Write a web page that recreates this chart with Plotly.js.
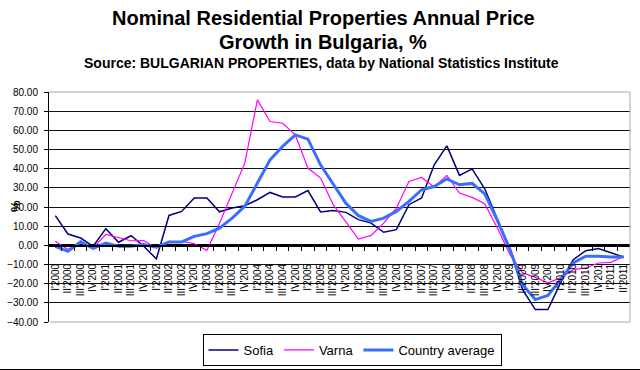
<!DOCTYPE html>
<html>
<head>
<meta charset="utf-8">
<script src="https://cdn.plot.ly/plotly-3.0.1.min.js"></script>
<style>
  html, body { margin: 0; padding: 0; background: #fff; }
  #chart { width: 640px; height: 370px; }
</style>
</head>
<body>
<div id="chart"></div>
<script>
// Quarter labels as printed on the category axis
const quarterLabels = [
  "I'2000","II'2000","III'2000","IV'200",
  "I'2001","II'2001","III'2001","IV'200",
  "I'2002","II'2002","III'2002","IV'200",
  "I'2003","II'2003","III'2003","IV'200",
  "I'2004","II'2004","III'2004","IV'200",
  "I'2005","II'2005","III'2005","IV'200",
  "I'2006","II'2006","III'2006","IV'200",
  "I'2007","II'2007","III'2007","IV'200",
  "I'2008","II'2008","III'2008","IV'200",
  "I'2009","II'2009","III'2009","IV'200",
  "I'2010","II'2010","III'2010","IV'201",
  "I'2011","II'2011"
];

const sofia = [
  15.5, 5.9, 3.8, -0.5, 8.7, 1.6, 5.0, -0.5, -7.1, 15.6,
  17.7, 24.7, 24.7, 17.5, 19.5, 20.7, 23.8, 27.6, 25.2, 25.2,
  28.6, 17.4, 18.2, 17.2, 13.4, 11.6, 6.8, 8.2, 21.2, 24.7,
  42.0, 51.9, 36.5, 39.9, 29.5, 14.0, -2.2, -23.1, -33.5, -33.5,
  -19.6, -7.5, -2.8, -1.7, -4.0, -6.1
];

const varna = [
  2.1, -2.2, 1.8, -1.4, 5.7, 4.0, 2.4, 2.5, -1.4, 2.0,
  2.0, 0.9, -2.6, 11.5, 27.3, 42.9, 75.9, 64.6, 63.7, 57.6,
  40.3, 35.1, 21.2, 12.0, 3.3, 5.2, 11.6, 19.4, 33.3, 35.4,
  30.5, 36.5, 27.3, 25.0, 21.7, 9.0, -4.9, -14.4, -16.7, -19.6,
  -17.0, -12.7, -11.8, -9.2, -8.9, -5.7
];

const countryAverage = [
  -0.5, -3.1, 1.8, -1.6, 1.2, -0.5, -0.5, 0.4, -1.0, 1.8,
  1.8, 4.7, 6.1, 9.0, 14.2, 20.3, 32.5, 44.6, 51.6, 57.6,
  55.4, 42.0, 32.0, 22.0, 15.5, 12.5, 14.2, 17.7, 22.9, 29.0,
  30.7, 34.7, 31.6, 32.3, 26.8, 13.0, -2.2, -20.5, -28.3, -26.2,
  -17.9, -9.2, -5.7, -5.7, -6.1, -6.1
];

const idx = quarterLabels.map((_, i) => i);
const boundaries = quarterLabels.slice(1).map((_, i) => i + 0.5);

const FONT = 'Arial, "Liberation Sans", sans-serif';
const W = 640, H = 370, ML = 49, MR = 10, MT = 92, MB = 48;
const PW = W - ML - MR, PH = H - MT - MB;
const px = x => (x - ML) / PW;          // pixel -> paper x
const py = y => 1 - (y - MT) / PH;      // pixel -> paper y

const traces = [
  { x: idx, y: sofia, name: 'Sofia', type: 'scatter', mode: 'lines',
    line: { color: '#000080', width: 1.5 } },
  { x: idx, y: varna, name: 'Varna', type: 'scatter', mode: 'lines',
    line: { color: '#FF00FF', width: 1.2 } },
  { x: idx, y: countryAverage, name: 'Country average', type: 'scatter', mode: 'lines',
    line: { color: '#3A6EFF', width: 3 } }
];

const layout = {
  width: W, height: H,
  margin: { l: ML, r: MR, t: MT, b: MB, autoexpand: false },
  paper_bgcolor: '#fff', plot_bgcolor: '#fff',
  font: { family: FONT, color: '#000' },
  showlegend: true,
  xaxis: {
    range: [-0.5, quarterLabels.length - 0.5],
    tickmode: 'array', tickvals: idx, ticktext: quarterLabels,
    tickangle: -90, ticks: '', ticklabelstandoff: 13,
    tickfont: { family: FONT, size: 10, color: '#000' },
    anchor: 'free', position: 40 / 120, automargin: false,
    showline: true, linecolor: '#000', linewidth: 1.5,
    showgrid: false, zeroline: false, fixedrange: true,
    minor: { tickmode: 'array', tickvals: boundaries, ticks: 'outside',
             ticklen: 4, tickcolor: '#000', tickwidth: 1, showgrid: false }
  },
  yaxis: {
    range: [-40, 80], dtick: 10, tick0: 0, tickformat: '.2f',
    ticks: 'outside', ticklen: 4, tickcolor: '#000', ticklabelstandoff: 4,
    tickfont: { family: FONT, size: 10, color: '#000' },
    showline: true, linecolor: '#000', linewidth: 1, automargin: false,
    showgrid: true, gridcolor: '#111', gridwidth: 1,
    zeroline: true, zerolinecolor: '#000', zerolinewidth: 2,
    fixedrange: true
  },
  legend: {
    orientation: 'h', x: px(352), xanchor: 'center', y: py(350), yanchor: 'middle',
    bordercolor: '#000', borderwidth: 1, bgcolor: '#fff',
    font: { family: FONT, size: 13, color: '#000' },
    itemwidth: 30, tracegroupgap: 0
  },
  annotations: [
    { text: '<b>Nominal Residential Properties Annual Price</b>',
      xref: 'paper', yref: 'paper', x: px(323), y: py(18),
      xanchor: 'center', yanchor: 'middle', showarrow: false,
      font: { family: FONT, size: 20, color: '#000' } },
    { text: '<b>Growth in Bulgaria, %</b>',
      xref: 'paper', yref: 'paper', x: px(323), y: py(42),
      xanchor: 'center', yanchor: 'middle', showarrow: false,
      font: { family: FONT, size: 20, color: '#000' } },
    { text: '<b>Source: BULGARIAN PROPERTIES, data by National Statistics Institute</b>',
      xref: 'paper', yref: 'paper', x: px(321), y: py(63),
      xanchor: 'center', yanchor: 'middle', showarrow: false,
      font: { family: FONT, size: 14, color: '#000' } },
    { text: '<b>%</b>', xref: 'paper', yref: 'paper',
      x: px(15), y: py(206), textangle: -90,
      xanchor: 'center', yanchor: 'middle', showarrow: false,
      font: { family: FONT, size: 13, color: '#000' } }
  ],
  shapes: [
    { type: 'line', xref: 'paper', yref: 'paper', x0: 0, x1: 1, y0: 1, y1: 1,
      line: { color: '#a8a8a8', width: 1 }, layer: 'above' },
    { type: 'line', xref: 'paper', yref: 'paper', x0: 1, x1: 1, y0: 0, y1: 1,
      line: { color: '#a8a8a8', width: 1 }, layer: 'above' },
    { type: 'line', xref: 'paper', yref: 'paper', x0: 0.002, x1: 1, y0: 0, y1: 0,
      line: { color: '#a8a8a8', width: 1 }, layer: 'above' },
    { type: 'line', xref: 'paper', yref: 'paper',
      x0: px(0), x1: px(640), y0: py(369.5), y1: py(369.5),
      line: { color: '#000', width: 1 } }
  ]
};

Plotly.newPlot('chart', traces, layout, { staticPlot: true, displayModeBar: false });
</script>
</body>
</html>
